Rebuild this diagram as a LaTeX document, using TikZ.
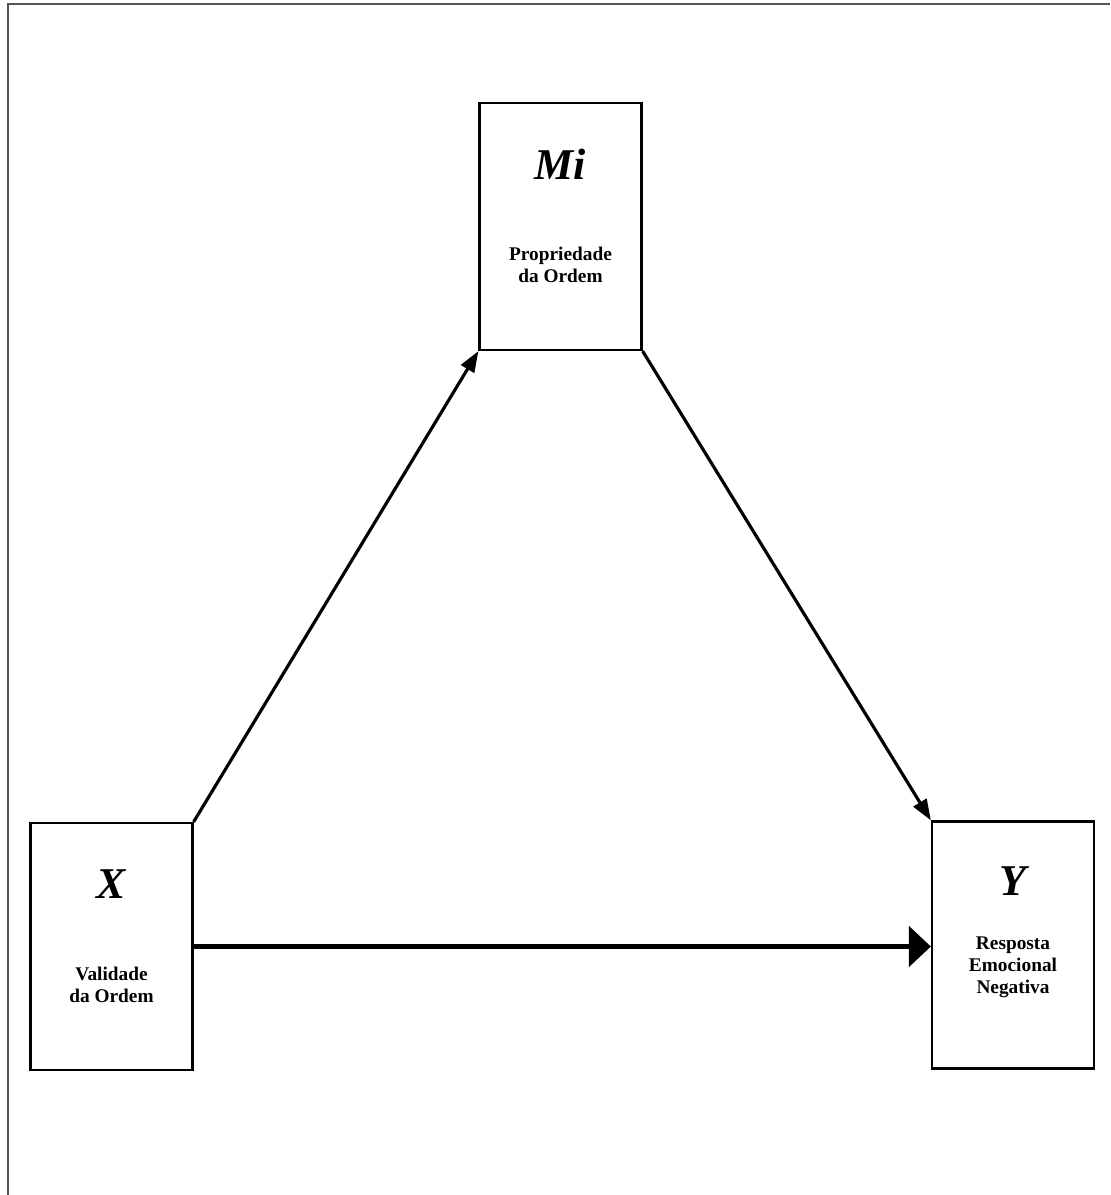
\documentclass[tikz,border=0pt]{standalone}
\usepackage{fontspec}
\setmainfont{Liberation Serif}
\usetikzlibrary{arrows.meta, calc}
\definecolor{framegray}{RGB}{85,85,85}

\begin{document}
\begin{tikzpicture}[
    x=0.02cm, y=-0.02cm,
    line cap=butt,
    box/.style={draw=black, line width=1.3pt, minimum width=3.24cm, minimum height=4.94cm, inner sep=0pt},
    var/.style={font=\bfseries\itshape\fontsize{25}{28}\selectfont},
    lbl/.style={font=\bfseries\fontsize{11}{12.6}\selectfont, align=center},
    path/.style={line width=1.8pt, -{Triangle[length=0.42cm, width=0.3cm]}},
    direct/.style={line width=2.8pt, -{Triangle[length=0.44cm, width=0.8cm]}},
]

% page area and the partial frame (top and left only)
\useasboundingbox (0,0) rectangle (1110,1195);
\draw[framegray, line width=1.5pt] (8,1195) -- (8,4) -- (1110,4);

% ── Variables ───────────────────────────────────────────────────────────────
\node[box] (mi) at (560.5,226.5) {};
\node[var] (mi-t) at ($(mi.north)+(0,62)$) {Mi};
\node[lbl] (mi-l) at ($(mi.north)+(0,163)$) {Propriedade\\da Ordem};

\node[box] (xv) at (111.5,946.5) {};
\node[var] (xv-t) at ($(xv.north)+(0,62)$) {X};
\node[lbl] (xv-l) at ($(xv.north)+(0,163)$) {Validade\\da Ordem};

\node[box] (yv) at (1013,945) {};
\node[var] (yv-t) at ($(yv.north)+(0,61)$) {Y};
\node[lbl] (yv-l) at ($(yv.north)+(0,147)$) {Resposta\\Emocional\\Negativa};

% ── Paths ───────────────────────────────────────────────────────────────────
\draw[path] (xv.north east) -- (mi.south west);
\draw[path] (mi.south east) -- (yv.north west);
\draw[direct] (xv.east) -- (xv.east -| yv.west);

\end{tikzpicture}
\end{document}
